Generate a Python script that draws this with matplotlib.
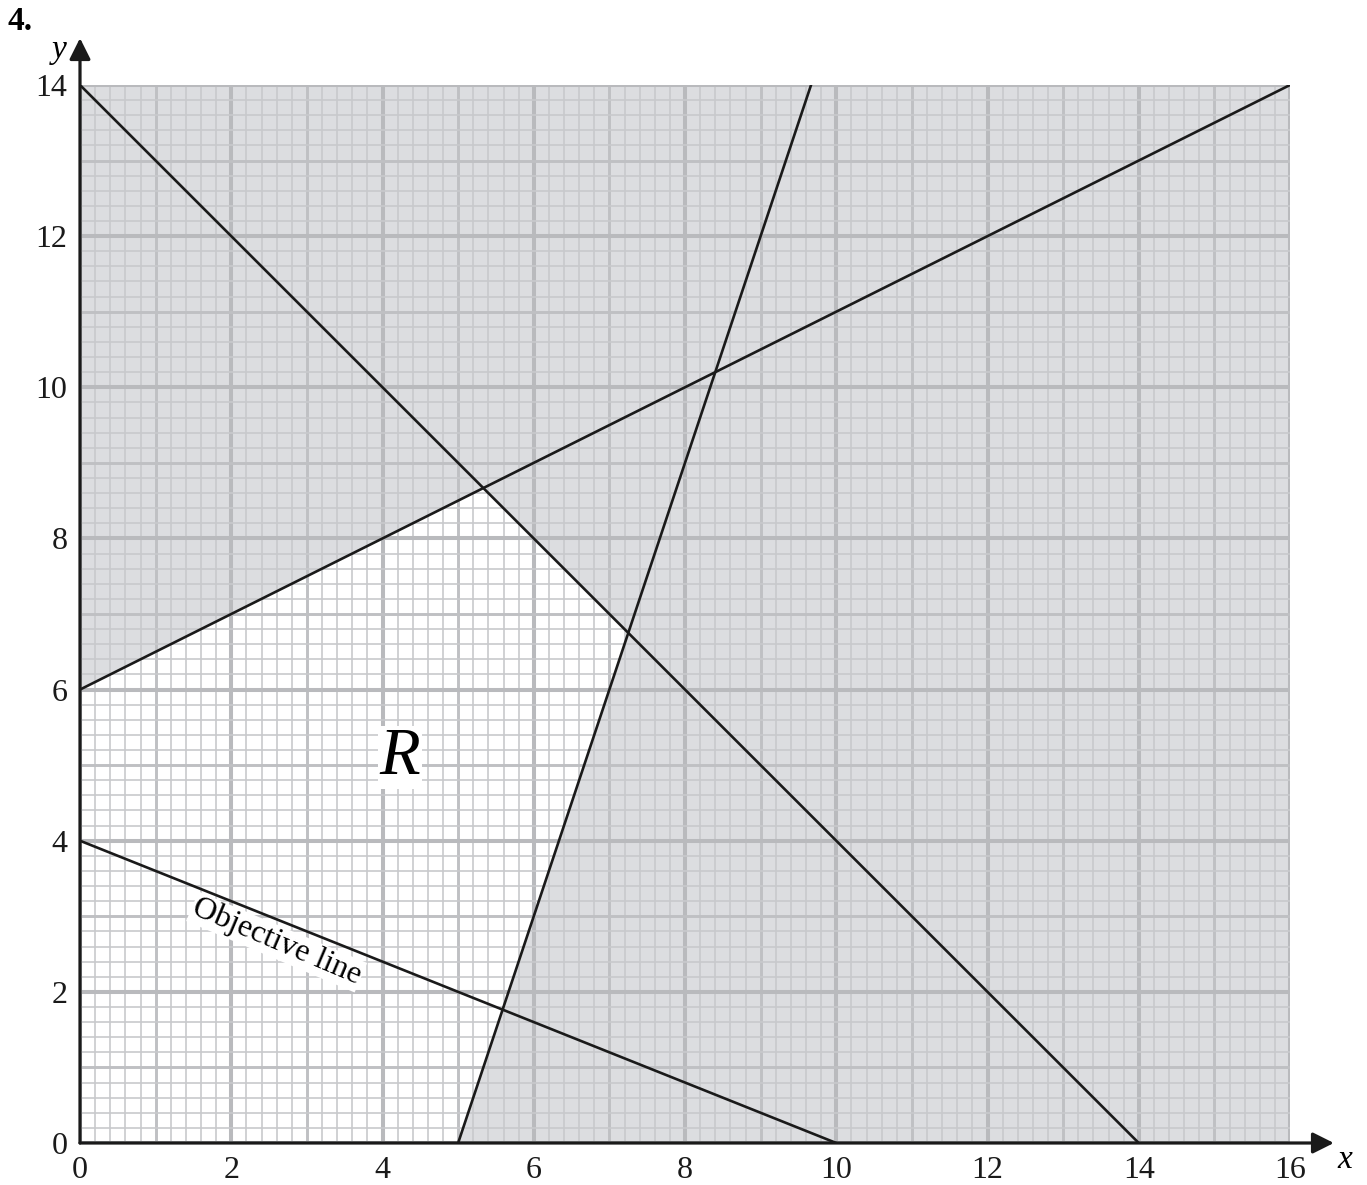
import numpy as np
import matplotlib
matplotlib.use("Agg")
import matplotlib.pyplot as plt

# ---- data ----
x_ticks = [0, 2, 4, 6, 8, 10, 12, 14, 16]
y_ticks = [0, 2, 4, 6, 8, 10, 12, 14]

line1_x = [0, 14]          # x + y = 14
line1_y = [14, 0]
line2_x = [0, 16]          # y = 6 + x/2
line2_y = [6, 14]
line3_x = [5, 29 / 3]      # y = 3x - 15
line3_y = [0, 14]
objective_x = [0, 10]      # 2x + 5y = 20
objective_y = [4, 0]

region_x = [0, 5, 7.25, 16 / 3, 0]
region_y = [0, 0, 6.75, 26 / 3, 6]

XMAX, YMAX = 16, 14

serif = ["Liberation Serif", "DejaVu Serif"]
plt.rcParams["font.family"] = serif

fig = plt.figure(figsize=(13.67, 11.85), dpi=100)
ax = fig.add_axes([80 / 1367, 1 - 1143 / 1185, 1210 / 1367, 1058 / 1185])
ax.set_xlim(0, XMAX)
ax.set_ylim(0, YMAX)

# shading: grey everywhere except region R
ax.add_patch(plt.Rectangle((0, 0), XMAX, YMAX, facecolor="#dcdde0", edgecolor="none", zorder=0))
ax.fill(region_x, region_y, facecolor="white", edgecolor="none", zorder=0.5)


def grid_style(v):
    if abs(v - round(v)) < 1e-6:
        iv = int(round(v))
        return (2.9, "#b9babd") if iv % 2 == 0 else (2.1, "#bfc0c3")
    return (1.2, "#c8c9cc")


# graph paper grid
for v in np.round(np.arange(0, XMAX + 1e-9, 0.2), 6):
    lw, col = grid_style(v)
    ax.plot([v, v], [0, YMAX], color=col, lw=lw, zorder=1, solid_capstyle="butt")
for v in np.round(np.arange(0, YMAX + 1e-9, 0.2), 6):
    lw, col = grid_style(v)
    ax.plot([0, XMAX], [v, v], color=col, lw=lw, zorder=1, solid_capstyle="butt")

# constraint and objective lines
for xs, ys in [(line1_x, line1_y), (line2_x, line2_y), (line3_x, line3_y), (objective_x, objective_y)]:
    ax.plot(xs, ys, color="#1a1a1a", lw=1.9, zorder=3)

# axes with arrows
for s in ax.spines.values():
    s.set_visible(False)
ax.annotate("", xy=(0, 14.62), xytext=(0, 0),
            arrowprops=dict(arrowstyle="-|>", color="#1a1a1a", lw=2.3, mutation_scale=32,
                            shrinkA=0, shrinkB=0), annotation_clip=False, zorder=5)
ax.annotate("", xy=(16.58, 0), xytext=(0, 0),
            arrowprops=dict(arrowstyle="-|>", color="#1a1a1a", lw=2.3, mutation_scale=32,
                            shrinkA=0, shrinkB=0), annotation_clip=False, zorder=5)

ax.set_xticks(x_ticks)
ax.set_yticks(y_ticks)
ax.set_xticklabels([str(t) for t in x_ticks])
ax.set_yticklabels([str(t) for t in y_ticks])
ax.tick_params(axis="both", length=0, labelsize=23, colors="#1a1a1a")
ax.tick_params(axis="x", pad=9)
ax.tick_params(axis="y", pad=9)

# labels
ax.text(-0.27, 14.47, "y", fontsize=24, style="italic", ha="center", va="center", clip_on=False)
ax.text(16.72, -0.22, "x", fontsize=24, style="italic", ha="center", va="center", clip_on=False)
fig.text(8 / 1367, 1 - 22 / 1185, "4.", fontsize=24, fontweight="bold", ha="left", va="center")

ax.text(4.23, 5.1, "R", fontsize=48, style="italic", ha="center", va="center", zorder=4,
        bbox=dict(facecolor="white", edgecolor="none", pad=1))
ax.text(2.6, 2.66, "Objective line", fontsize=23, rotation=-23, rotation_mode="anchor",
        ha="center", va="center", zorder=4,
        bbox=dict(facecolor="white", edgecolor="none", pad=1))

fig.savefig("out.png", dpi=100)
